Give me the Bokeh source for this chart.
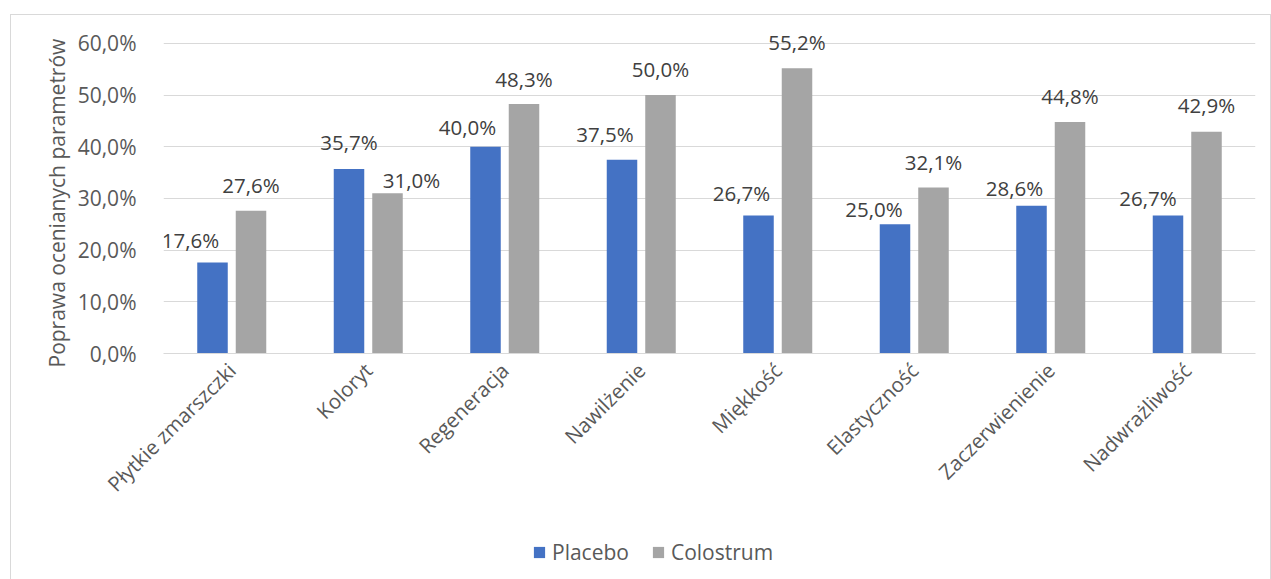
import math

from bokeh.core.properties import value
from bokeh.embed import file_html
from bokeh.layouts import column
from bokeh.models import (ColumnDataSource, FactorRange, FixedTicker, LabelSet,
                          Legend, LegendItem, Range1d, Title)
from bokeh.plotting import figure
from bokeh.resources import INLINE
from bokeh.transform import dodge

# --- data -------------------------------------------------------------------
categories = ["Płytkie zmarszczki", "Koloryt", "Regeneracja", "Nawilżenie",
              "Miękkość", "Elastyczność", "Zaczerwienienie", "Nadwrażliwość"]
placebo = [17.6, 35.7, 40.0, 37.5, 26.7, 25.0, 28.6, 26.7]
colostrum = [27.6, 31.0, 48.3, 50.0, 55.2, 32.1, 44.8, 42.9]
series_names = ["Placebo", "Colostrum"]
y_ticks = [0, 10, 20, 30, 40, 50, 60]
y_tick_labels = ["0,0%", "10,0%", "20,0%", "30,0%", "40,0%", "50,0%", "60,0%"]
y_title = "Poprawa ocenianych parametrów"

# --- styling ----------------------------------------------------------------
FONT = "Open Sans"
BLUE = "#4472C4"
GREY = "#A5A5A5"
TEXT = "#595959"
LABEL = "#404040"
GRID = "#D9D9D9"
BAR_W = 0.2235
SHIFT = 0.141
WIDTH = 1259

# hand-placed label nudges (pixels, y up) so the value labels sit clear of the bars
placebo_dx = [-22, 0, -18, -17, -17, -21, -17, -20]
placebo_dy = [15, 19, 12, 18, 15, 7, 10, 10]
colostrum_dx = [0, 24, 0, 0, 0, 0, 0, 0]
colostrum_dy = [18, 5, 17, 18, 18, 18, 18, 19]


def pct(v):
    return f"{v:.1f}".replace(".", ",") + "%"


source = ColumnDataSource(dict(
    cat=categories,
    placebo=placebo,
    colostrum=colostrum,
    placebo_lbl=[pct(v) for v in placebo],
    colostrum_lbl=[pct(v) for v in colostrum],
    p_dx=placebo_dx, p_dy=placebo_dy,
    c_dx=colostrum_dx, c_dy=colostrum_dy,
))

p = figure(width=WIDTH, height=520, x_range=FactorRange(*categories),
           y_range=Range1d(0, 62.5), output_backend="svg", toolbar_location=None,
           min_border_left=152, min_border_right=15, min_border_top=15,
           min_border_bottom=182)
p.outline_line_color = None
p.background_fill_color = "white"
p.border_fill_color = "white"

# bars
r_p = p.vbar(x=dodge("cat", -SHIFT, range=p.x_range), top="placebo", width=BAR_W,
             source=source, fill_color=BLUE, line_color=None)
r_c = p.vbar(x=dodge("cat", SHIFT, range=p.x_range), top="colostrum", width=BAR_W,
             source=source, fill_color=GREY, line_color=None)

# value labels
for col, shift, dx, dy in (("placebo", -SHIFT, "p_dx", "p_dy"),
                           ("colostrum", SHIFT, "c_dx", "c_dy")):
    p.add_layout(LabelSet(x=dodge("cat", shift, range=p.x_range), y=col,
                          text=col + "_lbl", x_offset=dx, y_offset=dy,
                          source=source, text_align="center",
                          text_baseline="alphabetic", text_font=value(FONT),
                          text_font_size="20.5px", text_color=LABEL))

# y axis
p.yaxis.ticker = FixedTicker(ticks=y_ticks)
p.yaxis.major_label_overrides = {t: s for t, s in zip(y_ticks, y_tick_labels)}
p.yaxis.axis_line_color = None
p.yaxis.major_tick_line_color = None
p.yaxis.minor_tick_line_color = None
p.yaxis.major_label_standoff = 21
p.yaxis.major_label_text_font = FONT
p.yaxis.major_label_text_font_size = "21px"
p.yaxis.major_label_text_color = TEXT

# vertical axis title, starting just below the frame bottom
p.add_layout(Title(text=y_title, align="left", offset=-14, standoff=8,
                   text_font=FONT, text_font_size="21px",
                   text_font_style="normal", text_color=TEXT), "left")

# x axis
p.xaxis.axis_line_color = GRID
p.xaxis.major_tick_line_color = None
p.xaxis.minor_tick_line_color = None
p.xaxis.major_label_orientation = math.pi / 4
p.xaxis.major_label_standoff = 7
p.xaxis.major_label_text_font = FONT
p.xaxis.major_label_text_font_size = "20.5px"
p.xaxis.major_label_text_color = TEXT

p.xgrid.grid_line_color = None
p.ygrid.grid_line_color = GRID
p.ygrid.grid_line_width = 1

# legend strip under the chart; its key bars have zero height
lg = figure(width=WIDTH, height=44, x_range=Range1d(0, 1), y_range=Range1d(0, 1),
            x_axis_type=None, y_axis_type=None, output_backend="svg",
            toolbar_location=None, min_border=0)
lg.outline_line_color = None
lg.grid.visible = False
key_src = ColumnDataSource(dict(x=[0.5], top=[0]))
k_p = lg.vbar(x="x", top="top", width=0.1, source=key_src, fill_color=BLUE, line_color=None)
k_c = lg.vbar(x="x", top="top", width=0.1, source=key_src, fill_color=GREY, line_color=None)
legend = Legend(items=[LegendItem(label=series_names[0], renderers=[k_p]),
                       LegendItem(label=series_names[1], renderers=[k_c])],
                orientation="horizontal", location=(369, 13),
                label_text_font=FONT, label_text_font_size="21px",
                label_text_color=TEXT, glyph_width=14, glyph_height=14,
                label_standoff=6, spacing=22, padding=0, margin=0,
                border_line_color=None, background_fill_alpha=0)
lg.add_layout(legend, "center")

# chart box with a light grey border
layout = column(p, lg, spacing=0, margin=(14, 0, 0, 10),
                styles={"border-top": "1px solid #D9D9D9",
                        "border-left": "1px solid #D9D9D9",
                        "border-right": "1px solid #D9D9D9"})

open("out.html", "w").write(file_html(layout, INLINE))
